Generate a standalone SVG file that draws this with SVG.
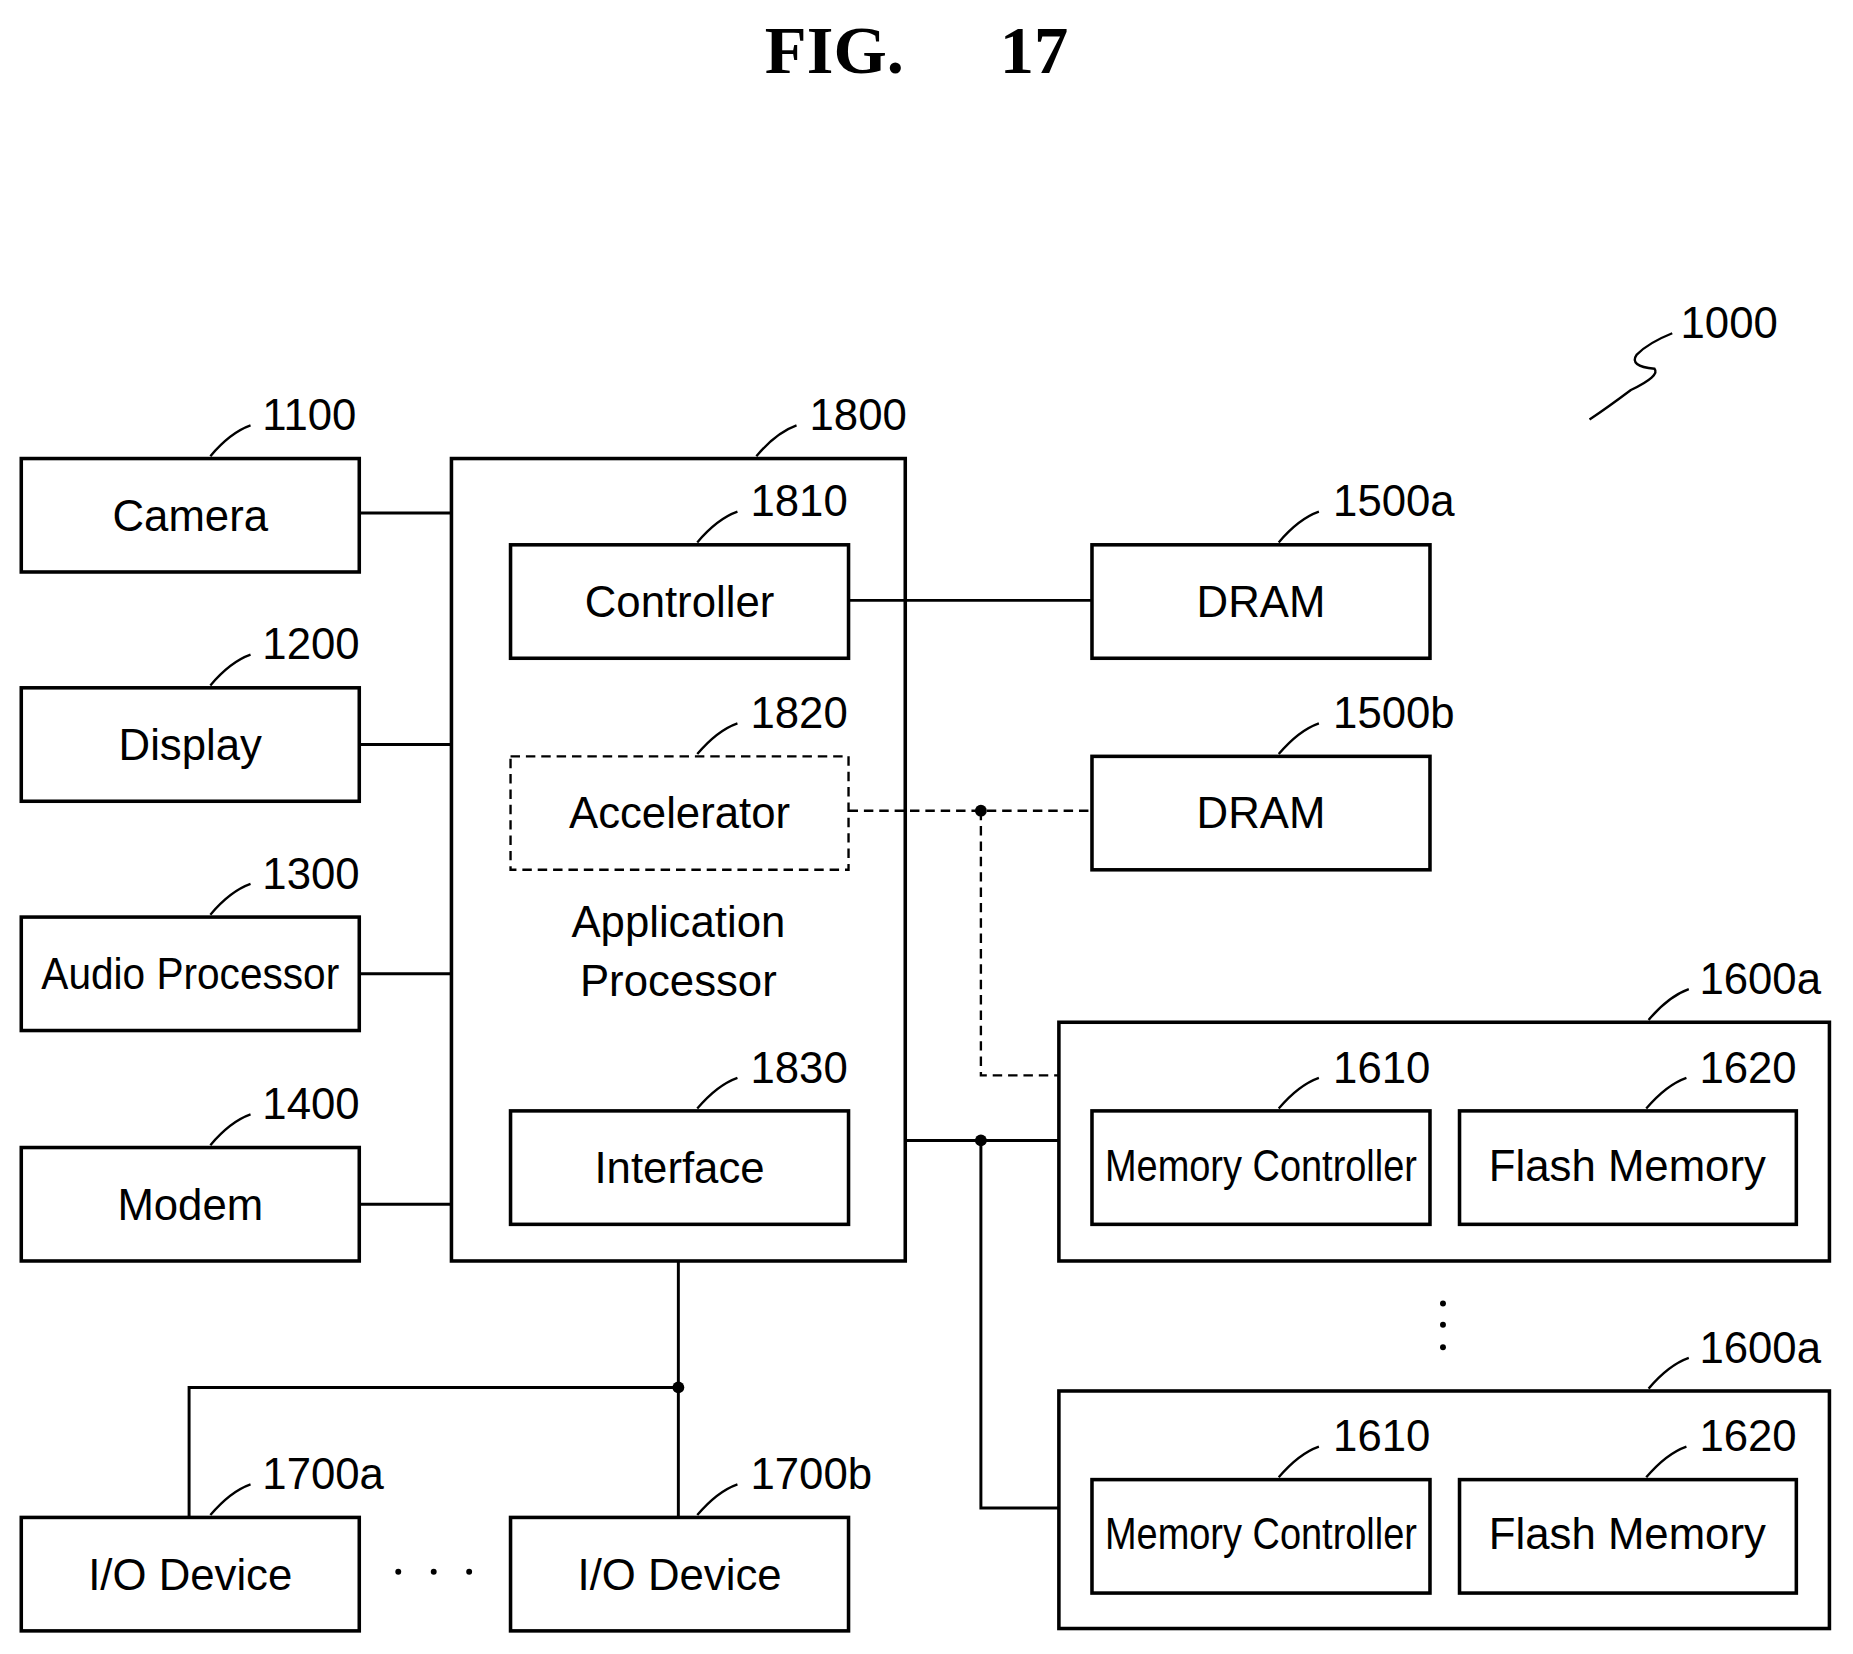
<svg xmlns="http://www.w3.org/2000/svg" width="1853" height="1654" viewBox="0 0 1853 1654">
<style>
.b{fill:#fff;stroke:#000;stroke-width:3}
.o{fill:none;stroke:#000;stroke-width:3}
.d{fill:#fff;stroke:#000;stroke-width:2;stroke-dasharray:8 5}
.l{fill:none;stroke:#000;stroke-width:2.5}
.dl{fill:none;stroke:#000;stroke-width:2;stroke-dasharray:8 5}
.t{font-family:"Liberation Sans",Arial,sans-serif;font-size:37px;text-anchor:middle;fill:#000}
.n{font-family:"Liberation Sans",Arial,sans-serif;font-size:37px;fill:#000}
.ld{fill:none;stroke:#000;stroke-width:2}
</style>
<rect width="1853" height="1654" fill="#fff"/>
<g transform="scale(1.1818)">
<text x="706" y="62" style="font-family:'Liberation Serif',serif;font-weight:bold;font-size:58px;text-anchor:middle">FIG.</text>
<text x="875" y="62" style="font-family:'Liberation Serif',serif;font-weight:bold;font-size:58px;text-anchor:middle">17</text>
<g id="ref1000"><text class="n" x="1422" y="286">1000</text><path class="ld" d="M1415 282 Q1395 290 1385 300 Q1378 310 1400 312 Q1405 318 1380 330 Q1360 345 1345 355" stroke-width="3"/></g>
<g id="connectors">
<path class="l" d="M304 434H382M304 630H382M304 824H382M304 1019H382"/>
<path class="l" d="M718 508H924"/>
<path class="dl" d="M718 686H924M830 686V910H896"/>
<circle cx="830" cy="686" r="5"/>
<path class="l" d="M766 965H896M830 965V1276H896"/>
<circle cx="830" cy="965" r="5"/>
<path class="l" d="M574 1067V1284M574 1174H160V1284"/>
<circle cx="574" cy="1174" r="5"/>
</g>
<g id="n1100"><rect class="b" x="18" y="388" width="286" height="96"/><text class="t" x="161" y="449">Camera</text><path class="ld" d="M178 386Q195 366 212 360"/><text class="n" x="222" y="364">1100</text></g>
<g id="n1200"><rect class="b" x="18" y="582" width="286" height="96"/><text class="t" x="161" y="643">Display</text><path class="ld" d="M178 580Q195 560 212 554"/><text class="n" x="222" y="558">1200</text></g>
<g id="n1300"><rect class="b" x="18" y="776" width="286" height="96"/><text class="t" x="161" y="837" textLength="252" lengthAdjust="spacingAndGlyphs">Audio Processor</text><path class="ld" d="M178 774Q195 754 212 748"/><text class="n" x="222" y="752">1300</text></g>
<g id="n1400"><rect class="b" x="18" y="971" width="286" height="96"/><text class="t" x="161" y="1032">Modem</text><path class="ld" d="M178 969Q195 949 212 943"/><text class="n" x="222" y="947">1400</text></g>
<g id="n1800"><rect class="o" x="382" y="388" width="384" height="679"/><path class="ld" d="M640 386Q657 366 674 360"/><text class="n" x="685" y="364">1800</text>
<text class="t" x="574" y="793">Application</text><text class="t" x="574" y="843">Processor</text></g>
<g id="n1810"><rect class="b" x="432" y="461" width="286" height="96"/><text class="t" x="575" y="522">Controller</text><path class="ld" d="M590 459Q607 439 624 433"/><text class="n" x="635" y="437">1810</text></g>
<g id="n1820"><rect class="d" x="432" y="640" width="286" height="96"/><text class="t" x="575" y="701">Accelerator</text><path class="ld" d="M590 638Q607 618 624 612"/><text class="n" x="635" y="616">1820</text></g>
<g id="n1830"><rect class="b" x="432" y="940" width="286" height="96"/><text class="t" x="575" y="1001">Interface</text><path class="ld" d="M590 938Q607 918 624 912"/><text class="n" x="635" y="916">1830</text></g>
<g id="n1500a"><rect class="b" x="924" y="461" width="286" height="96"/><text class="t" x="1067" y="522">DRAM</text><path class="ld" d="M1082 459Q1099 439 1116 433"/><text class="n" x="1128" y="437">1500a</text></g>
<g id="n1500b"><rect class="b" x="924" y="640" width="286" height="96"/><text class="t" x="1067" y="701">DRAM</text><path class="ld" d="M1082 638Q1099 618 1116 612"/><text class="n" x="1128" y="616">1500b</text></g>
<g id="n1600a_1"><rect class="b" x="896" y="865" width="652" height="202"/><path class="ld" d="M1395 863Q1412 843 1429 837"/><text class="n" x="1438" y="841">1600a</text>
<rect class="b" x="924" y="940" width="286" height="96"/><text class="t" x="1067" y="999" textLength="264" lengthAdjust="spacingAndGlyphs">Memory Controller</text><path class="ld" d="M1082 938Q1099 918 1116 912"/><text class="n" x="1128" y="916">1610</text>
<rect class="b" x="1235" y="940" width="285" height="96"/><text class="t" x="1377" y="999">Flash Memory</text><path class="ld" d="M1393 938Q1410 918 1427 912"/><text class="n" x="1438" y="916">1620</text></g>
<g id="n1600a_2"><rect class="b" x="896" y="1177" width="652" height="201"/><path class="ld" d="M1395 1175Q1412 1155 1429 1149"/><text class="n" x="1438" y="1153">1600a</text>
<rect class="b" x="924" y="1252" width="286" height="96"/><text class="t" x="1067" y="1311" textLength="264" lengthAdjust="spacingAndGlyphs">Memory Controller</text><path class="ld" d="M1082 1250Q1099 1230 1116 1224"/><text class="n" x="1128" y="1228">1610</text>
<rect class="b" x="1235" y="1252" width="285" height="96"/><text class="t" x="1377" y="1311">Flash Memory</text><path class="ld" d="M1393 1250Q1410 1230 1427 1224"/><text class="n" x="1438" y="1228">1620</text></g>
<g id="vdots"><circle cx="1221" cy="1103" r="2.5"/><circle cx="1221" cy="1121" r="2.5"/><circle cx="1221" cy="1140" r="2.5"/></g>
<g id="n1700a"><rect class="b" x="18" y="1284" width="286" height="96"/><text class="t" x="161" y="1345">I/O Device</text><path class="ld" d="M178 1282Q195 1262 212 1256"/><text class="n" x="222" y="1260">1700a</text></g>
<g id="hdots"><circle cx="337" cy="1330" r="2.5"/><circle cx="367" cy="1330" r="2.5"/><circle cx="397" cy="1330" r="2.5"/></g>
<g id="n1700b"><rect class="b" x="432" y="1284" width="286" height="96"/><text class="t" x="575" y="1345">I/O Device</text><path class="ld" d="M590 1282Q607 1262 624 1256"/><text class="n" x="635" y="1260">1700b</text></g>
</g>
</svg>
